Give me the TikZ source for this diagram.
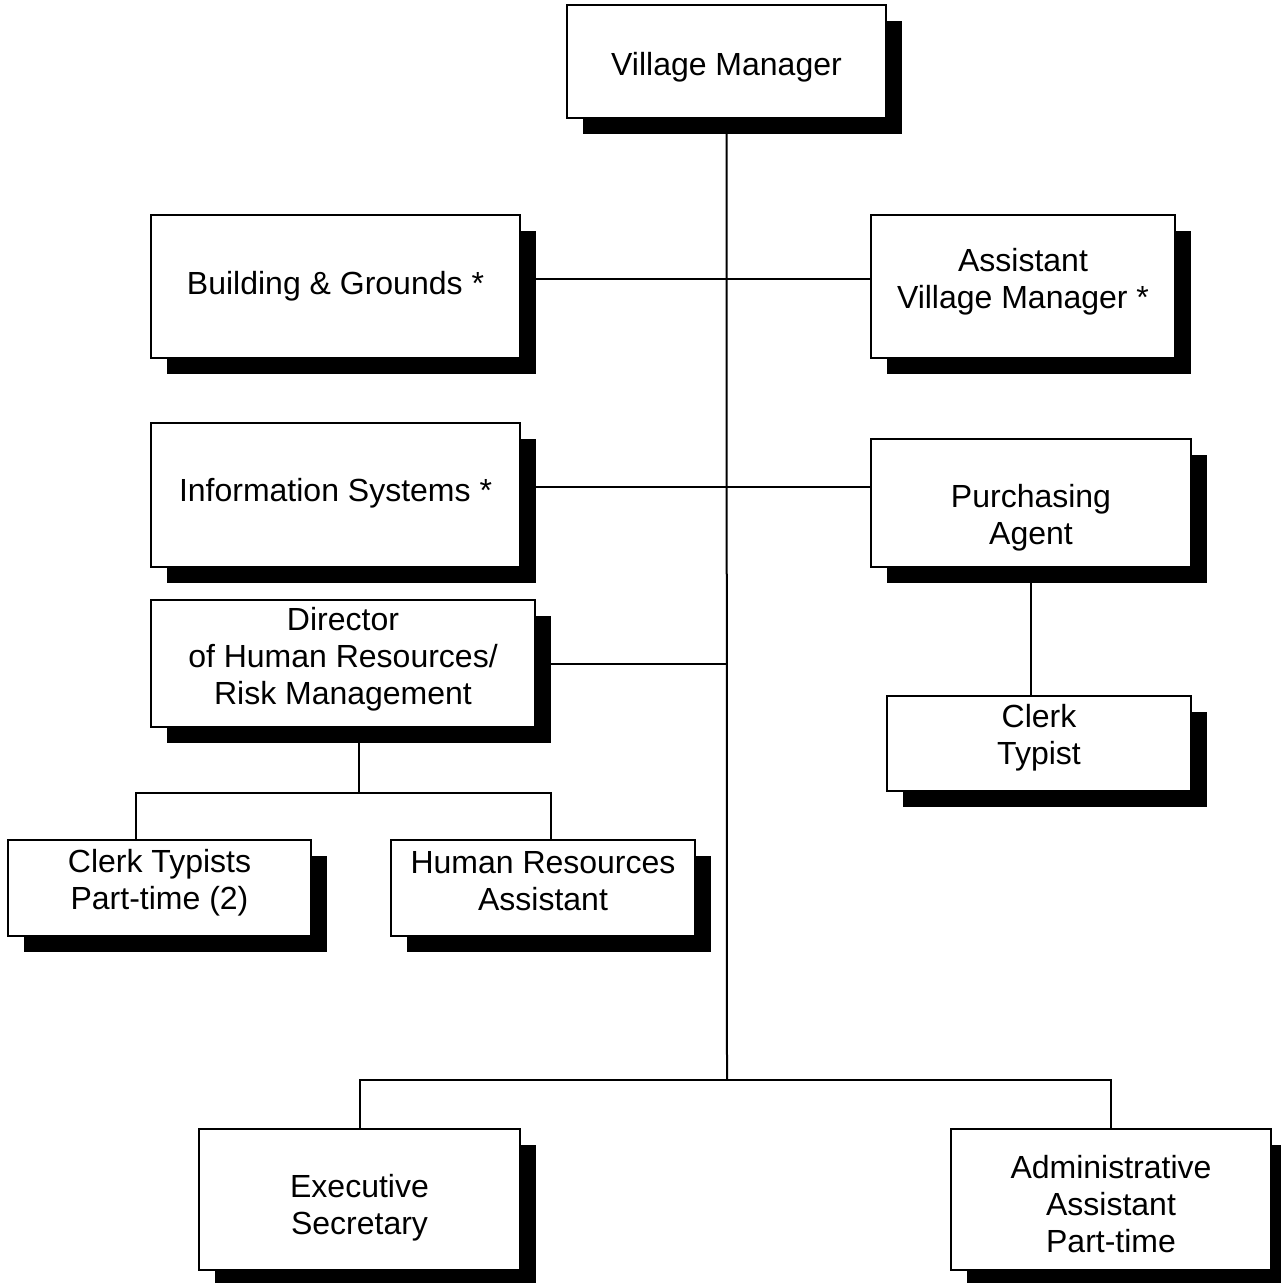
\documentclass[tikz,border=0pt]{standalone}
\usepackage{fontspec}
\setmainfont{Liberation Sans}
\usetikzlibrary{shadows,backgrounds}

\begin{document}
\begin{tikzpicture}[x=0.5pt,y=-0.5pt,
  post/.style={draw, fill=white, line width=0.8pt, inner sep=0pt,
    drop shadow={shadow xshift=8pt, shadow yshift=-8pt, fill=black, opacity=1}},
  tag/.style={align=center, inner sep=0pt, font=\fontsize{16}{18.5}\selectfont},
  link/.style={line width=1pt}]
\useasboundingbox (0,0) rectangle (1280,1283);
%
\node[post, minimum width=159.5pt, minimum height=56.5pt,
  label={[tag, yshift=-3pt]center:Village Manager}] (vm) at (726.5,61.5) {};
\node[post, minimum width=184.5pt, minimum height=71.5pt,
  label={[tag]center:Building \& Grounds *}] (bg) at (335.5,286.5) {};
\node[post, minimum width=152pt, minimum height=71.5pt,
  label={[tag, yshift=2.5pt]center:Assistant\\Village Manager *}] (avm) at (1023,286.5) {};
\node[post, minimum width=184.5pt, minimum height=72pt,
  label={[tag, yshift=1pt]center:Information Systems *}] (is) at (335.5,495) {};
\node[post, minimum width=160pt, minimum height=64pt,
  label={[tag, yshift=-7.5pt]center:Purchasing\\Agent}] (pa) at (1031,503) {};
\node[post, minimum width=192pt, minimum height=63.5pt,
  label={[tag, yshift=2pt]center:Director\\of Human Resources/\\Risk Management}] (hr) at (343,663.5) {};
\node[post, minimum width=152pt, minimum height=47.5pt,
  label={[tag, yshift=3pt]center:Clerk\\Typist}] (ct) at (1039,743.5) {};
\node[post, minimum width=151.5pt, minimum height=48pt,
  label={[tag, yshift=2.5pt]center:Clerk Typists\\Part-time (2)}] (ctp) at (159.5,888) {};
\node[post, minimum width=152pt, minimum height=48pt,
  label={[tag, yshift=3.5pt]center:Human Resources\\Assistant}] (hra) at (543,888) {};
\node[post, minimum width=160.5pt, minimum height=70.5pt,
  label={[tag, yshift=-4pt]center:Executive\\Secretary}] (es) at (359.5,1199.5) {};
\node[post, minimum width=160pt, minimum height=70.5pt,
  label={[tag, yshift=-2.5pt]center:Administrative\\Assistant\\Part-time}] (aa) at (1111,1199.5) {};
%
\coordinate (row1) at (727,279);
\coordinate (row2) at (727,487);
\coordinate (low) at (727,1080);
\coordinate (hrfork) at (359,793);
\coordinate (ctpin) at (136,793);
\coordinate (hrain) at (551,793);
%
\begin{scope}[on background layer]
\draw[link] (vm.south) -- (low);
\draw[link] (row1 -| bg.east) -- (row1 -| avm.west);
\draw[link] (row2 -| is.east) -- (row2 -| pa.west);
\draw[link] (hr.east) -- (hr.east -| low);
\draw[link] (pa.south) -- (pa.south |- ct.north);
%
\draw[link] (hr.south -| hrfork) -- (hrfork);
\draw[link] (ctp.north -| ctpin) -- (ctpin) -- (hrain) -- (hra.north -| hrain);
%
\draw[link] (es.north) -- (es.north |- low) -- (aa.north |- low) -- (aa.north);
\end{scope}
\end{tikzpicture}
\end{document}
